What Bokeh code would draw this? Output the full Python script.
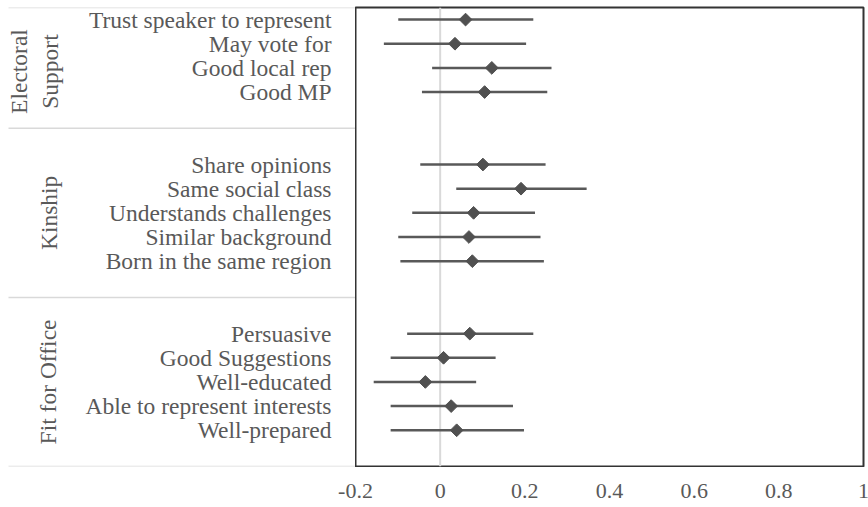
import math
from bokeh.plotting import figure
from bokeh.layouts import row, column
from bokeh.models import Range1d, Span, ColumnDataSource
from bokeh.embed import file_html
from bokeh.resources import INLINE

# ---- data ----
group_names = ["Electoral\nSupport", "Kinship", "Fit for Office"]
group_sizes = [4, 5, 5]
items = ["Trust speaker to represent", "May vote for", "Good local rep", "Good MP",
         "Share opinions", "Same social class", "Understands challenges",
         "Similar background", "Born in the same region",
         "Persuasive", "Good Suggestions", "Well-educated",
         "Able to represent interests", "Well-prepared"]
estimate = [0.060, 0.035, 0.122, 0.105,
            0.101, 0.191, 0.079, 0.068, 0.076,
            0.070, 0.008, -0.035, 0.026, 0.039]
lower = [-0.099, -0.133, -0.019, -0.043,
         -0.047, 0.038, -0.066, -0.099, -0.094,
         -0.078, -0.117, -0.157, -0.117, -0.117]
upper = [0.220, 0.203, 0.263, 0.253,
         0.249, 0.346, 0.224, 0.237, 0.245,
         0.220, 0.131, 0.085, 0.172, 0.198]
tick_values = [-0.2, 0, 0.2, 0.4, 0.6, 0.8, 1]
tick_labels = ["-0.2", "0", "0.2", "0.4", "0.6", "0.8", "1"]
X_MIN, X_MAX = -0.2, 1.0

# ---- row slots (groups separated by two empty rows) ----
GAP = 2
slots = []
block_bounds = [-0.5]
pos = 0
for i, n in enumerate(group_sizes):
    slots.extend(range(pos, pos + n))
    pos += n
    if i < len(group_sizes) - 1:
        block_bounds.append(pos + 0.5)
        pos += GAP
end_slot = pos + 0.5
block_bounds.append(end_slot)
group_centers = [(block_bounds[i] + block_bounds[i + 1]) / 2 for i in range(len(group_sizes))]
group_centers[0] += 0.15

FONT = "Liberation Serif"
TXT = "#595959"
yr = Range1d(end_slot, -0.5)

TOTAL_W, TOTAL_H = 868, 507
TOP = 7
PLOT_H = 467          # plot rows end at the frame bottom (466) + 1px border
STRIP_H = TOTAL_H - PLOT_H
LEFT_W = 355
RIGHT_B = 5
MAIN_W = TOTAL_W - LEFT_W
FRAME_W = MAIN_W - RIGHT_B

# ---- left label panel ----
left = figure(width=LEFT_W, height=PLOT_H, output_backend="svg", toolbar_location=None,
              x_range=Range1d(0, LEFT_W), y_range=yr,
              x_axis_location=None, y_axis_location=None,
              min_border_left=0, min_border_right=0,
              min_border_top=TOP, min_border_bottom=1)
left.outline_line_color = None
left.xgrid.visible = False
left.ygrid.visible = False

sep_src = ColumnDataSource(dict(y=block_bounds, x0=[8] * len(block_bounds),
                                x1=[LEFT_W] * len(block_bounds)))
left.segment(x0="x0", y0="y", x1="x1", y1="y", source=sep_src,
             line_color="#d9d9d9", line_width=1.5)

lab_src = ColumnDataSource(dict(x=[331] * len(items), y=slots, t=items,
                                f=[FONT] * len(items)))
left.text(x="x", y="y", text="t", text_font="f", source=lab_src, text_align="right",
          text_baseline="middle", text_font_size="23.5px", text_color=TXT)

grp_src = ColumnDataSource(dict(x=[34, 48, 47], y=group_centers, t=group_names,
                                f=[FONT] * len(group_names)))
left.text(x="x", y="y", text="t", text_font="f", source=grp_src, angle=math.pi / 2,
          text_align="center", text_baseline="middle",
          text_font_size="23.5px", text_color=TXT, text_line_height=1.2)

# ---- main plot ----
p = figure(width=MAIN_W, height=PLOT_H, output_backend="svg", toolbar_location=None,
           x_range=Range1d(X_MIN, X_MAX), y_range=yr,
           x_axis_location=None, y_axis_location=None,
           min_border_left=0, min_border_right=RIGHT_B,
           min_border_top=TOP, min_border_bottom=1)
p.xgrid.visible = False
p.ygrid.visible = False
p.outline_line_color = "#333333"
p.outline_line_width = 2

p.add_layout(Span(location=0, dimension="height", line_color="#d9d9d9",
                  line_width=2, level="underlay"))

src = ColumnDataSource(dict(y=slots, est=estimate, lo=lower, hi=upper))
p.segment(x0="lo", y0="y", x1="hi", y1="y", source=src,
          line_color="#595959", line_width=2.5)
p.scatter(x="est", y="y", source=src, marker="square", angle=math.pi / 4,
          size=9, fill_color="#505050", line_color="#505050")

# ---- x tick label strip (same linear scale as the plot frame) ----
units_per_px = (X_MAX - X_MIN) / FRAME_W
strip_range = Range1d(X_MIN - LEFT_W * units_per_px, X_MAX + RIGHT_B * units_per_px)
strip = figure(width=TOTAL_W, height=STRIP_H, output_backend="svg", toolbar_location=None,
               x_range=strip_range, y_range=Range1d(STRIP_H, 0),
               x_axis_location=None, y_axis_location=None,
               min_border_left=0, min_border_right=0,
               min_border_top=0, min_border_bottom=0)
strip.outline_line_color = None
strip.xgrid.visible = False
strip.ygrid.visible = False
tick_src = ColumnDataSource(dict(x=tick_values, y=[23] * len(tick_values), t=tick_labels,
                                 f=[FONT] * len(tick_values)))
strip.text(x="x", y="y", text="t", text_font="f", source=tick_src,
           text_align="center", text_baseline="middle",
           text_font_size="22px", text_color=TXT)

layout = column(row(left, p, spacing=0), strip, spacing=0)
open("out.html", "w").write(file_html(layout, INLINE))
